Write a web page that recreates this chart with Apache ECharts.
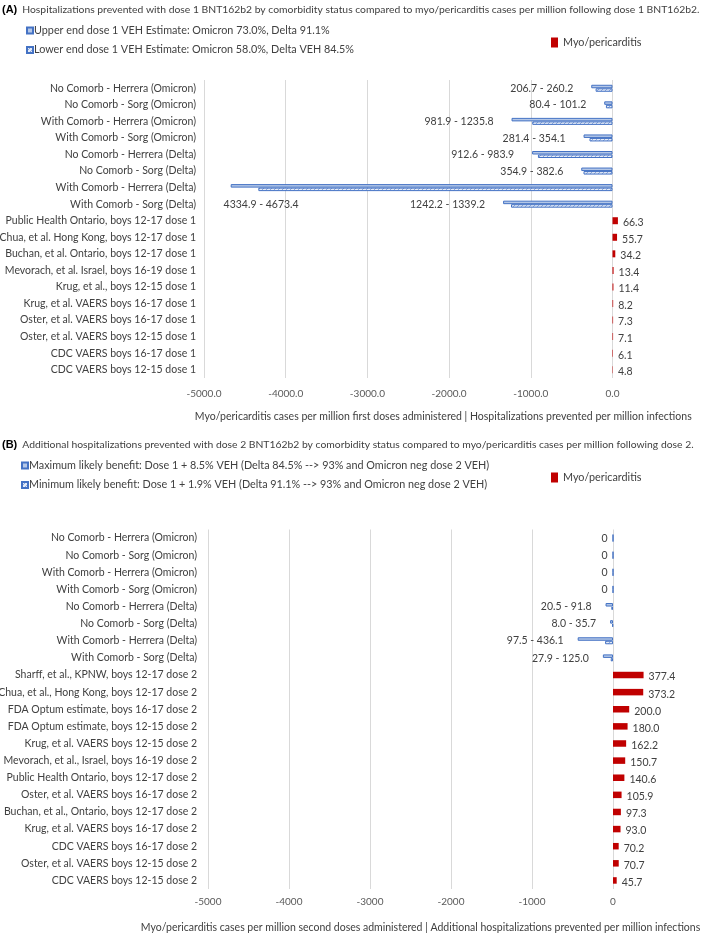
<!DOCTYPE html>
<html><head><meta charset="utf-8">
<script src="https://cdn.jsdelivr.net/npm/echarts@6/dist/echarts.min.js"></script>
<style>html,body{margin:0;padding:0;background:#fff}#c{width:709px;height:937px}</style>
</head><body><div id="c"></div>
<script>
// ---------- DATA ----------
const catsA = [
  'No Comorb - Herrera (Omicron)','No Comorb - Sorg (Omicron)','With Comorb - Herrera (Omicron)','With Comorb - Sorg (Omicron)',
  'No Comorb - Herrera (Delta)','No Comorb - Sorg (Delta)','With Comorb - Herrera (Delta)','With Comorb - Sorg (Delta)',
  'Public Health Ontario, boys 12-17 dose 1','Chua, et al. Hong Kong, boys 12-17 dose 1','Buchan, et al. Ontario, boys 12-17 dose 1',
  'Mevorach, et al. Israel, boys 16-19 dose 1','Krug, et al., boys 12-15 dose 1','Krug, et al. VAERS boys 16-17 dose 1',
  'Oster, et al. VAERS boys 16-17 dose 1','Oster, et al. VAERS boys 12-15 dose 1','CDC VAERS boys 16-17 dose 1','CDC VAERS boys 12-15 dose 1'
];
const upperA = [260.2, 101.2, 1235.8, 354.1, 983.9, 382.6, 4673.4, 1339.2];
const lowerA = [206.7, 80.4, 981.9, 281.4, 912.6, 354.9, 4334.9, 1242.2];
const myoA = [66.3, 55.7, 34.2, 13.4, 11.4, 8.2, 7.3, 7.1, 6.1, 4.8];

const catsB = [
  'No Comorb - Herrera (Omicron)','No Comorb - Sorg (Omicron)','With Comorb - Herrera (Omicron)','With Comorb - Sorg (Omicron)',
  'No Comorb - Herrera (Delta)','No Comorb - Sorg (Delta)','With Comorb - Herrera (Delta)','With Comorb - Sorg (Delta)',
  'Sharff, et al., KPNW, boys 12-17 dose 2','Chua, et al., Hong Kong, boys 12-17 dose 2','FDA Optum estimate, boys 16-17 dose 2',
  'FDA Optum estimate, boys 12-15 dose 2','Krug, et al. VAERS boys 12-15 dose 2','Mevorach, et al., Israel, boys 16-19 dose 2',
  'Public Health Ontario, boys 12-17 dose 2','Oster, et al. VAERS boys 16-17 dose 2','Buchan, et al., Ontario, boys 12-17 dose 2',
  'Krug, et al. VAERS boys 16-17 dose 2','CDC VAERS boys 16-17 dose 2','Oster, et al. VAERS boys 12-15 dose 2','CDC VAERS boys 12-15 dose 2'
];
const upperB = [0, 0, 0, 0, 91.8, 35.7, 436.1, 125.0];
const lowerB = [0, 0, 0, 0, 20.5, 8.0, 97.5, 27.9];
const myoB = [377.4, 373.2, 200.0, 180.0, 162.2, 150.7, 140.6, 105.9, 97.3, 93.0, 70.2, 70.7, 45.7];

const xMin = -5000, xMax = 0, xStep = 1000;

const nameUpA = 'Upper end dose 1 VEH Estimate: Omicron 73.0%, Delta 91.1%';
const nameLoA = 'Lower end dose 1 VEH Estimate: Omicron 58.0%, Delta VEH 84.5%';
const nameUpB = 'Maximum likely benefit: Dose 1 + 8.5% VEH (Delta 84.5% --> 93% and Omicron neg dose 2 VEH)';
const nameLoB = 'Minimum likely benefit: Dose 1 + 1.9% VEH (Delta 91.1% --> 93% and Omicron neg dose 2 VEH)';
const nameMyo = 'Myo/pericarditis';
const titleA = 'Hospitalizations prevented with dose 1 BNT162b2 by comorbidity status compared to myo/pericarditis cases per million following dose 1 BNT162b2.';
const titleB = 'Additional hospitalizations prevented with dose 2 BNT162b2 by comorbidity status compared to myo/pericarditis cases per million following dose 2.';
const axisNameA = 'Myo/pericarditis cases per million first doses administered | Hospitalizations prevented per million infections';
const axisNameB = 'Myo/pericarditis cases per million second doses administered | Additional hospitalizations prevented per million infections';

// ---------- STYLE ----------
const FONT = "Lato, 'Noto Sans', sans-serif";
const TXT = '#404040', TICK = '#595959', GRIDC = '#d9d9d9';
const BLUE_FILL = '#b4c7e7', BLUE_EDGE = '#4472c4', RED = '#c00000';

function hatch() {
  const c = document.createElement('canvas'); c.width = 4; c.height = 4;
  const g = c.getContext('2d');
  g.fillStyle = '#e4ebf7'; g.fillRect(0, 0, 4, 4);
  g.strokeStyle = '#8faadc'; g.lineWidth = 1;
  g.beginPath(); g.moveTo(0, 4); g.lineTo(4, 0); g.moveTo(-1, 1); g.lineTo(1, -1); g.moveTo(3, 5); g.lineTo(5, 3); g.stroke();
  return c;
}
const HATCH = { image: hatch(), repeat: 'repeat' };

function rangeLabel(lo, hi) {
  if (lo === 0 && hi === 0) return '0';
  return lo.toFixed(1) + ' - ' + hi.toFixed(1);
}

function panel(gi, cats, up, lo, myo, names, opts) {
  const nCom = up.length;
  const upData = cats.map((c, i) => {
    if (i >= nCom) return null;
    const item = { value: -up[i] };
    if (up[i] === 0) item.label = { distance: 5 };
    if (opts.special === i) item.label = { distance: 0, offset: opts.specialOffset };
    return item;
  });
  const loData = cats.map((c, i) => i < nCom ? -lo[i] : null);
  const myoData = cats.map((c, i) => i >= nCom ? myo[i - nCom] : null);
  return [
    {
      type: 'bar', name: names[0], xAxisIndex: gi, yAxisIndex: gi * 2, data: upData,
      barWidth: opts.bw, barGap: '0%',
      itemStyle: { color: BLUE_FILL, borderColor: BLUE_EDGE, borderWidth: 1 },
      label: {
        show: true, position: 'left', distance: opts.labDist, offset: [0, 2],
        color: TXT, fontFamily: FONT, fontSize: 10.5,
        formatter: p => rangeLabel(lo[p.dataIndex], up[p.dataIndex])
      },
      emphasis: { disabled: true }
    },
    {
      type: 'bar', name: names[1], xAxisIndex: gi, yAxisIndex: gi * 2, data: loData,
      barWidth: opts.bw, barGap: '0%',
      itemStyle: { color: HATCH, borderColor: BLUE_EDGE, borderWidth: 1 },
      emphasis: { disabled: true }
    },
    {
      type: 'bar', name: nameMyo, xAxisIndex: gi, yAxisIndex: gi * 2 + 1, data: myoData,
      barWidth: opts.rw, clip: false,
      itemStyle: { color: RED },
      label: {
        show: true, position: 'right', distance: 5, offset: [0, 2],
        color: TXT, fontFamily: FONT, fontSize: 10.5,
        formatter: p => p.value.toFixed(1)
      },
      emphasis: { disabled: true }
    }
  ];
}

const grids = [
  { left: 204, right: 96.5, top: 80, height: 298, outerBoundsMode: 'none', containLabel: false },
  { left: 208, right: 96, top: 529.5, height: 359.5, outerBoundsMode: 'none', containLabel: false }
];

function xAxis(gi, dec, name, nameShift, margin) {
  return {
    type: 'value', gridIndex: gi, min: xMin, max: xMax, interval: xStep,
    axisLine: { show: false }, axisTick: { show: false },
    splitLine: { lineStyle: { color: GRIDC, width: 1 } },
    axisLabel: { color: TICK, fontFamily: FONT, fontSize: 10, margin: margin, formatter: v => v.toFixed(dec) },
    name: name, nameLocation: 'middle', nameGap: 33,
    nameTextStyle: { color: TXT, fontFamily: FONT, fontSize: 10.5, padding: [0, 0, 0, nameShift] }
  };
}
function yAxes(gi, cats, margin) {
  return [
    { type: 'category', gridIndex: gi, data: cats, inverse: true,
      axisLine: { show: false }, axisTick: { show: false },
      axisLabel: { color: TXT, fontFamily: FONT, fontSize: 10.5, margin: margin } },
    { type: 'category', gridIndex: gi, data: cats, inverse: true, show: false }
  ];
}

function legendL(left, top, names) {
  return { left: left, top: top, padding: 0, orient: 'vertical', itemGap: 8.5, itemWidth: 6, itemHeight: 6, icon: 'rect',
    selectedMode: false, data: names, textStyle: { color: TXT, fontFamily: FONT, fontSize: 10.8, padding: [0, 0, 0, -4] } };
}
function legendR(top) {
  return { left: 551, top: top, padding: 0, itemWidth: 7, itemHeight: 10, icon: 'rect', selectedMode: false,
    data: [nameMyo], textStyle: { color: TXT, fontFamily: FONT, fontSize: 10.8 } };
}

const titleStyle = {
  fontWeight: 'normal',
  rich: {
    b: { fontWeight: 'bold', color: '#000', fontFamily: "'Liberation Sans', sans-serif", fontSize: 11 },
    t: { fontWeight: 'normal', color: TXT, fontFamily: FONT, fontSize: 10.35 }
  }
};

const option = {
  animation: false,
  backgroundColor: '#fff',
  title: [
    { left: 2, top: 1, padding: 0, text: '{b|(A)} {t|' + titleA + '}', textStyle: titleStyle },
    { left: 2, top: 436, padding: 0, text: '{b|(B)} {t|' + titleB + '}', textStyle: titleStyle }
  ],
  legend: [
    legendL(26, 25, [nameUpA, nameLoA]),
    legendR(37),
    legendL(21, 460, [nameUpB, nameLoB]),
    legendR(472)
  ],
  grid: grids,
  xAxis: [xAxis(0, 1, axisNameA, 70, 11), xAxis(1, 0, axisNameB, 20, 8)],
  yAxis: [...yAxes(0, catsA, 8), ...yAxes(1, catsB, 11)],
  series: [
    ...panel(0, catsA, upperA, lowerA, myoA, [nameUpA, nameLoA], { bw: 3.5, rw: 7, labDist: 18, special: 6, specialOffset: [68, 19] }),
    ...panel(1, catsB, upperB, lowerB, myoB, [nameUpB, nameLoB], { bw: 3.5, rw: 6.5, labDist: 14 })
  ]
};

const chart = echarts.init(document.getElementById('c'), null, { renderer: 'canvas' });
chart.setOption(option);
</script>
</body></html>
